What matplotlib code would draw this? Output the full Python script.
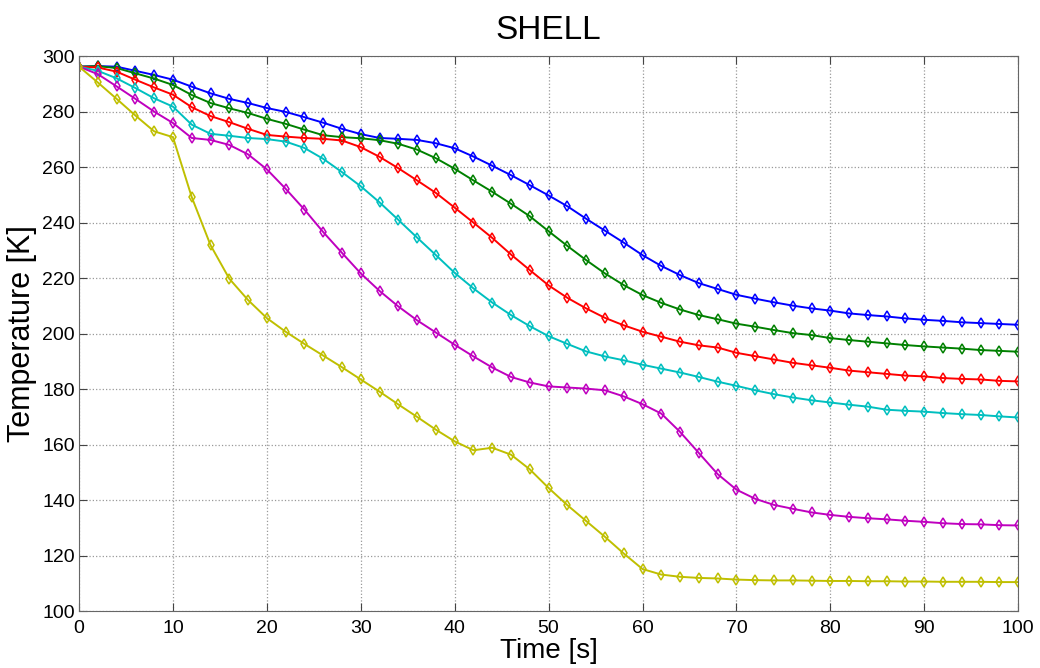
import numpy as np
import matplotlib
matplotlib.use("Agg")
import matplotlib.pyplot as plt

plt.rcParams['font.family'] = ['Liberation Sans', 'DejaVu Sans']

# time axis, one sample every 2 s
time = np.arange(0, 101, 2)

blue = [296.2, 296.4, 296.2, 294.7, 293.2, 291.5, 289.0, 286.6, 284.6, 283.1,
        281.3, 279.9, 278.0, 276.0, 273.8, 271.9, 270.5, 270.2, 269.8, 268.6,
        266.8, 263.8, 260.5, 257.1, 253.5, 249.8, 245.9, 241.4, 237.1, 232.8,
        228.3, 224.4, 221.1, 218.2, 216.1, 214.0, 212.6, 211.3, 210.1, 209.1,
        208.3, 207.3, 206.7, 206.2, 205.5, 205.0, 204.6, 204.1, 203.8, 203.5,
        203.2]
green = [296.2, 296.4, 295.7, 293.8, 291.9, 289.6, 286.0, 283.1, 281.2, 279.5,
         277.4, 275.6, 273.5, 271.5, 270.8, 270.4, 269.7, 268.4, 266.3, 263.2,
         259.4, 255.2, 251.1, 246.8, 242.3, 236.9, 231.6, 226.5, 221.7, 217.5,
         213.9, 211.1, 208.7, 206.7, 205.2, 203.6, 202.5, 201.3, 200.2, 199.5,
         198.4, 197.7, 197.1, 196.5, 195.9, 195.4, 195.0, 194.6, 194.1, 193.8,
         193.5]
red = [296.2, 295.9, 294.4, 291.5, 288.7, 286.1, 281.6, 278.4, 276.2, 273.8,
       271.6, 271.0, 270.5, 270.2, 269.6, 267.2, 263.7, 259.6, 255.2, 250.7,
       245.4, 240.0, 234.5, 228.5, 222.9, 217.4, 212.9, 209.1, 205.7, 203.0,
       200.7, 198.9, 197.1, 195.8, 195.0, 193.1, 191.9, 190.7, 189.5, 188.6,
       187.7, 186.7, 186.1, 185.5, 184.9, 184.6, 184.0, 183.7, 183.5, 183.0,
       182.8]
cyan = [296.2, 294.7, 292.0, 288.5, 284.8, 281.8, 275.3, 272.0, 271.3, 270.5,
        270.1, 269.2, 266.9, 263.0, 258.2, 253.1, 247.3, 241.0, 234.6, 228.3,
        221.9, 216.3, 211.2, 206.7, 202.7, 199.1, 196.3, 193.6, 191.8, 190.4,
        188.8, 187.4, 186.0, 184.4, 182.7, 181.2, 179.6, 178.2, 177.0, 176.0,
        175.2, 174.4, 173.7, 172.6, 172.2, 171.9, 171.4, 171.0, 170.7, 170.2,
        169.8]
magenta = [296.2, 293.5, 289.1, 284.6, 280.0, 275.9, 270.5, 269.8, 268.0, 264.6,
           259.2, 252.2, 244.7, 236.6, 229.1, 221.7, 215.4, 209.8, 204.8, 200.4,
           196.0, 191.8, 187.8, 184.4, 182.4, 181.0, 180.6, 180.2, 179.6, 177.4,
           174.6, 171.2, 164.6, 157.0, 149.4, 143.8, 140.5, 138.3, 136.9, 135.6,
           134.7, 134.0, 133.5, 133.1, 132.6, 132.2, 131.7, 131.4, 131.3, 131.0,
           130.9]
yellow = [296.2, 290.5, 284.6, 278.6, 272.9, 270.8, 249.2, 231.9, 219.8, 212.1,
          205.6, 200.7, 196.3, 192.1, 187.9, 183.5, 179.1, 174.5, 170.0, 165.4,
          161.2, 158.0, 158.9, 156.4, 151.1, 144.4, 138.2, 132.5, 126.8, 120.8,
          115.2, 113.2, 112.4, 112.0, 111.8, 111.4, 111.2, 111.1, 111.1, 111.0,
          110.9, 110.9, 110.8, 110.8, 110.7, 110.7, 110.6, 110.6, 110.6, 110.5,
          110.5]

series = [blue, green, red, cyan, magenta, yellow]
colors = ["#0000ff", "#008000", "#ff0000", "#00bfbf", "#bf00bf", "#bfbf00"]

fig = plt.figure(figsize=(10.4, 6.68), dpi=100)
ax = fig.add_axes([0.076, 0.085, 0.903, 0.831])

for vals, c in zip(series, colors):
    ax.plot(time, vals, color=c, linewidth=1.4, marker="d", markersize=5,
            markerfacecolor="none", markeredgewidth=1.1)

ax.set_xlim(0, 100)
ax.set_ylim(100, 300)
ax.set_xticks(np.arange(0, 101, 10))
ax.set_yticks(np.arange(100, 301, 20))
ax.tick_params(direction="in", top=True, right=True, labelsize=14, length=6,
               color="#444444")
ax.tick_params(axis="x", pad=6)
ax.tick_params(axis="y", pad=3)
for s in ax.spines.values():
    s.set_color("#666666")
ax.grid(True, linestyle=":", color="#999999", linewidth=0.9)

ax.set_title("SHELL", fontsize=24, pad=12)
ax.set_xlabel("Time [s]", fontsize=20, labelpad=1)
ax.set_ylabel("Temperature [K]", fontsize=22, labelpad=4)

fig.savefig("out.png", dpi=100)
